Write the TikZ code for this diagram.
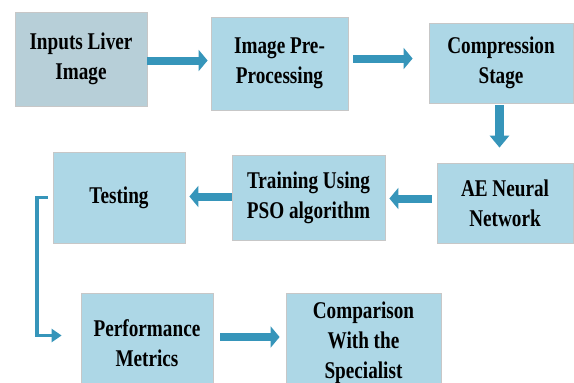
\documentclass[tikz,border=0pt]{standalone}
\usepackage{fontspec}
\newfontfamily\boxfont{Liberation Serif}[FakeStretch=0.8]
\usetikzlibrary{arrows.meta,shadows}
\definecolor{boxblue}{RGB}{173,215,230}
\definecolor{boxgray}{RGB}{183,207,216}
\definecolor{arrowblue}{RGB}{54,149,186}
\begin{document}
\begin{tikzpicture}[x=1pt,y=-1pt,
  blk/.style={fill=boxblue, draw=black!22, line width=0.8pt, align=center,
    font=\boxfont\bfseries\fontsize{24}{30}\selectfont,
    drop shadow={shadow xshift=1.2pt, shadow yshift=-1.2pt, opacity=0.35},
    inner sep=0pt},
  fat/.style={draw=arrowblue, line width=8pt,
    -{Triangle[length=9pt,width=21pt]}},
  fatv/.style={draw=arrowblue, line width=9pt,
    -{Triangle[length=12pt,width=19pt]}},
  thin/.style={draw=arrowblue, line width=3.5pt,
    -{Triangle[length=10pt,width=13pt]}}]
\useasboundingbox (0,0) rectangle (574,383);
\clip (0,0) rectangle (574,383);
\fill[white] (0,0) rectangle (574,383);
% boxes
\node[blk, fill=boxgray, minimum width=132pt, minimum height=94pt] (b1) at (81,59) {Inputs Liver\\Image};
\node[blk, minimum width=137pt, minimum height=93pt] (b2) at (279.5,63.5) {Image Pre-\\Processing};
\node[blk, minimum width=144pt, minimum height=80pt] (b3) at (501,63) {Compression\\Stage};
\node[blk, minimum width=136pt, minimum height=80pt] (b4) at (505,203) {AE Neural\\Network};
\node[blk, minimum width=153pt, minimum height=85pt] (b5) at (308.5,197.5) {Training Using\\PSO algorithm};
\node[blk, minimum width=132pt, minimum height=91pt] (b6) at (119,197.5) {Testing};
\node[blk, minimum width=132pt, minimum height=100pt] (b7) at (147,343) {Performance\\Metrics};
\node[blk, minimum width=155pt, minimum height=100pt] (b8) at (363.5,343) {Comparison\\With the\\Specialist};
% connectors
\draw[fat] (b1.east |- 0,60.5) -- ([xshift=-3pt]b2.west |- 0,60.5);
\draw[fat] ([xshift=5pt]b2.east |- 0,58.5) -- ([xshift=-16pt]b3.west |- 0,58.5);
\draw[fatv] ([yshift=-2pt]b3.south -| 499.5,0) -- ([yshift=15pt]b4.north -| 499.5,0);
\draw[fat] ([xshift=-5pt]b4.west |- 0,198.5) -- ([xshift=4pt]b5.east |- 0,198.5);
\draw[fat] (b5.west |- 0,196.5) -- ([xshift=4pt]b6.east |- 0,196.5);
\draw[fat] ([xshift=7pt]b7.east |- 0,337) -- ([xshift=-6pt]b8.west |- 0,337);
\coordinate (c1) at (37,197.5);
\coordinate (c2) at (37,335.5);
\draw[thin] ([xshift=-5pt]b6.west |- c1) -- (c1) -- (c2) -- ([xshift=-19pt]b7.west |- c2);
\end{tikzpicture}
\end{document}
